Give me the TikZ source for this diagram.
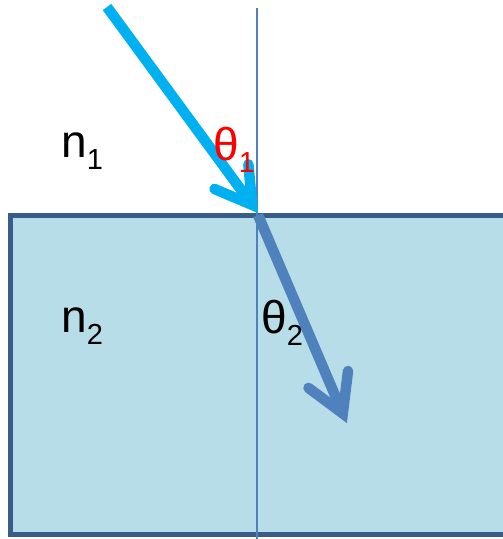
\documentclass[tikz,border=0pt]{standalone}
\usepackage{fontspec}
\setmainfont{Liberation Sans}
\definecolor{incol}{HTML}{00B0F0}
\definecolor{refcol}{HTML}{4F81BD}
\definecolor{bordcol}{HTML}{385D8A}
\definecolor{fillcol}{HTML}{B7DDE8}
\newcommand{\mysub}[1]{\raisebox{-12pt}{\fontsize{29}{29}\selectfont #1}}
\begin{document}
\begin{tikzpicture}[x=1pt,y=-1pt,
  ray/.style={line width=10.5pt},
  arrhead/.style={line width=10.5pt, line cap=round, line join=miter},
  lbl/.style={inner sep=0pt, anchor=base west, font=\fontsize{46}{54}\selectfont}]
\useasboundingbox (0,0) rectangle (503,539);
\clip (0,0) rectangle (503,539);
% medium block
\draw[line width=4.5pt, draw=bordcol, fill=fillcol] (10.5,215.5) rectangle (530,534.5);
% coordinates
\coordinate (inS) at (107,7);
\coordinate (inV) at (252.1,204.9);
\coordinate (inL) at (214.5,189.0);
\coordinate (inR) at (248.4,164.3);
\coordinate (rfS) at (258,215);
\coordinate (rfV) at (342.8,413.5);
\coordinate (rfL) at (308.5,387.9);
\coordinate (rfR) at (348.0,371.0);
\coordinate (nmT) at (257,8);
\coordinate (nmB) at (257,539);
% refracted ray
\draw[ray, refcol] (rfS) -- (rfV);
\draw[arrhead, refcol] (rfL) -- (rfV) -- (rfR);
% normal
\draw[line width=2.2pt, refcol] (nmT) -- (nmB);
% incident ray
\draw[ray, incol] (inS) -- (inV);
\draw[arrhead, incol] (inL) -- (inV) -- (inR);
% labels
\node[lbl] (n1) at (61,157) {n\mysub{1}};
\node[lbl] (n2) at (61,332) {n\mysub{2}};
\node[lbl, text=red] (t1) at (213,160) {θ\mysub{1}};
\node[lbl] (t2) at (261,333) {θ\mysub{2}};
\end{tikzpicture}
\end{document}
